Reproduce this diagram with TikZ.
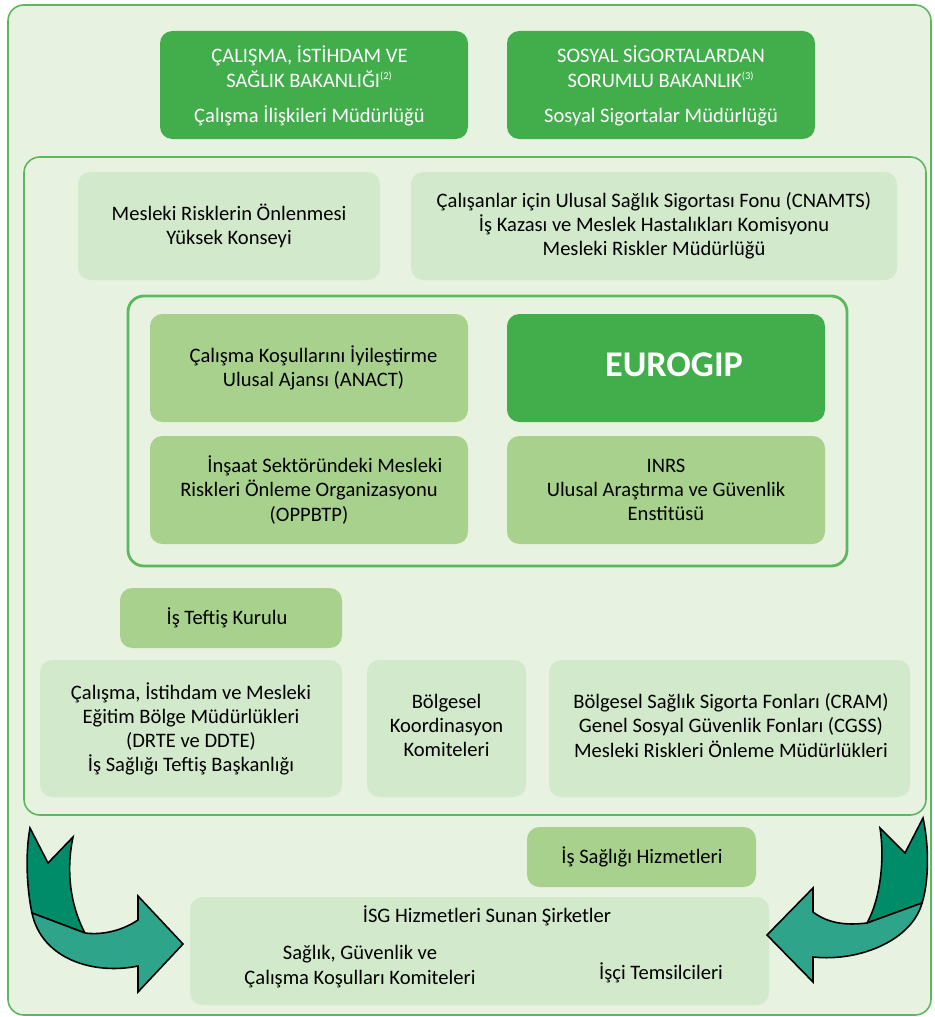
\documentclass[tikz,border=0pt]{standalone}
\usepackage{fontspec}
\setmainfont{Carlito}
\usetikzlibrary{fit}
\definecolor{pagebg}{HTML}{E7F2E1}
\definecolor{frameline}{HTML}{5DB75F}
\definecolor{darkbox}{HTML}{41AD4B}
\definecolor{midbox}{HTML}{A9D18E}
\definecolor{lightbox}{HTML}{D3E9CB}
\definecolor{arrowdark}{HTML}{008C69}
\definecolor{arrowlight}{HTML}{2EA58A}
\begin{document}
\begin{tikzpicture}[x=0.02cm,y=-0.02cm,
  txt/.style={font=\fontsize{11.7}{13.7}\selectfont, align=center, text=black, inner sep=0pt},
  wtxt/.style={txt, text=white, font=\fontsize{11.7}{14.2}\selectfont},
  boxbase/.style={rounded corners=7pt, inner sep=0pt, draw=none},
  darkgreen/.style={boxbase, fill=darkbox},
  midgreen/.style={boxbase, fill=midbox},
  lightgreen/.style={boxbase, fill=lightbox},
  frame/.style={draw=frameline, line width=0.9pt, rounded corners=9pt},
  ribbon/.style={draw=black, line width=0.9pt}]
\useasboundingbox (0,0) rectangle (934,1017);

% outer panel
\draw[frame, fill=pagebg] (8,5) rectangle (931,1015);

% ministries
\node[darkgreen, fit={(160,31) (468,139)}] (min1) {};
\node[wtxt] (min1t) at (309.5,86)
  {ÇALIŞMA, İSTİHDAM VE\\SAĞLIK BAKANLIĞI\textsuperscript{\fontsize{6}{6}\selectfont(2)}\\[5.8pt]Çalışma İlişkileri Müdürlüğü};
\node[darkgreen, fit={(507,31) (815,139)}] (min2) {};
\node[wtxt] (min2t) at (661,86)
  {SOSYAL SİGORTALARDAN\\SORUMLU BAKANLIK\textsuperscript{\fontsize{6}{6}\selectfont(3)}\\[5.8pt]Sosyal Sigortalar Müdürlüğü};

% national level panel
\draw[frame] (24,157) rectangle (926,815);

\node[lightgreen, fit={(78,172) (380,280)}] (council) {};
\node[txt] (councilt) at (council.center) {Mesleki Risklerin Önlenmesi\\Yüksek Konseyi};
\node[lightgreen, fit={(411,172) (897,280)}] (cnamts) {};
\node[txt] (cnamtst) at (cnamts.center)
  {Çalışanlar için Ulusal Sağlık Sigortası Fonu (CNAMTS)\\İş Kazası ve Meslek Hastalıkları Komisyonu\\Mesleki Riskler Müdürlüğü};

% agencies panel
\draw[frame, line width=1.6pt] (128,296) rectangle (847,566);

\node[midgreen, fit={(150,314) (468,422)}] (anact) {};
\node[txt] (anactt) at (313.5,368) {Çalışma Koşullarını İyileştirme\\Ulusal Ajansı (ANACT)};
\node[darkgreen, fit={(507,314) (825,422)}] (eurogip) {};
\node[txt, text=white, font=\fontsize{20.6}{24}\selectfont\bfseries] (eurogipt) at (674,364.5) {EUROGIP};
\node[midgreen, fit={(150,436) (468,544)}] (oppbtp) {};
\node[txt] (oppbtpt) at (oppbtp.center)
  {\hspace*{18pt}İnşaat Sektöründeki Mesleki\\Riskleri Önleme Organizasyonu\\(OPPBTP)};
\node[midgreen, fit={(507,436) (825,544)}] (inrs) {};
\node[txt] (inrst) at (inrs.center) {INRS\\Ulusal Araştırma ve Güvenlik\\Enstitüsü};

% regional level
\node[midgreen, fit={(120,588) (342,648)}] (inspect) {};
\node[txt] (inspectt) at (227,618) {İş Teftiş Kurulu};
\node[lightgreen, fit={(40,660) (342,797)}] (drte) {};
\node[txt] (drtet) at (drte.center)
  {Çalışma, İstihdam ve Mesleki\\Eğitim Bölge Müdürlükleri\\(DRTE ve DDTE)\\İş Sağlığı Teftiş Başkanlığı};
\node[lightgreen, fit={(367,660) (526,797)}] (coord) {};
\node[txt] (coordt) at (446.5,725.5) {Bölgesel\\Koordinasyon\\Komiteleri};
\node[lightgreen, fit={(549,660) (910,797)}] (cram) {};
\node[txt] (cramt) at (731,725.5)
  {Bölgesel Sağlık Sigorta Fonları (CRAM)\\Genel Sosyal Güvenlik Fonları (CGSS)\\Mesleki Riskleri Önleme Müdürlükleri};

% company level
\node[midgreen, fit={(527,827) (756,887)}] (ohs) {};
\node[txt] (ohst) at (642,857) {İş Sağlığı Hizmetleri};
\node[lightgreen, fit={(190,897) (769,1005)}] (firms) {};
\node[txt] (firmstitle) at (487,916) {İSG Hizmetleri Sunan Şirketler};
\node[txt, font=\fontsize{11.7}{14.2}\selectfont] (committees) at (360,967) {Sağlık, Güvenlik ve\\Çalışma Koşulları Komiteleri};
\node[txt] (reps) at (661,973) {İşçi Temsilcileri};

% left ribbon arrow
\draw[ribbon, fill=arrowdark]
  (30,828) -- (48,863) -- (73,837)
  .. controls (66,870) and (70,905) .. (85,933)
  -- (32,913)
  .. controls (27,890) and (25,855) .. (30,828) -- cycle;
\draw[ribbon, fill=arrowlight]
  (32,913) .. controls (42,960) and (95,975) .. (138,966)
  -- (138,992) -- (183,944) -- (138,896) -- (138,920)
  .. controls (120,932) and (100,935) .. (85,933) -- cycle;

% right ribbon arrow
\draw[ribbon, fill=arrowdark]
  (880,828) -- (905,853) -- (923,818)
  .. controls (930,850) and (928,885) .. (922,903)
  -- (867,923)
  .. controls (880,900) and (885,860) .. (880,828) -- cycle;
\draw[ribbon, fill=arrowlight]
  (922,903) .. controls (912,940) and (860,962) .. (813,957)
  -- (813,982) -- (767,935) -- (813,888) -- (813,912)
  .. controls (830,925) and (850,925) .. (867,923) -- cycle;
\end{tikzpicture}
\end{document}
